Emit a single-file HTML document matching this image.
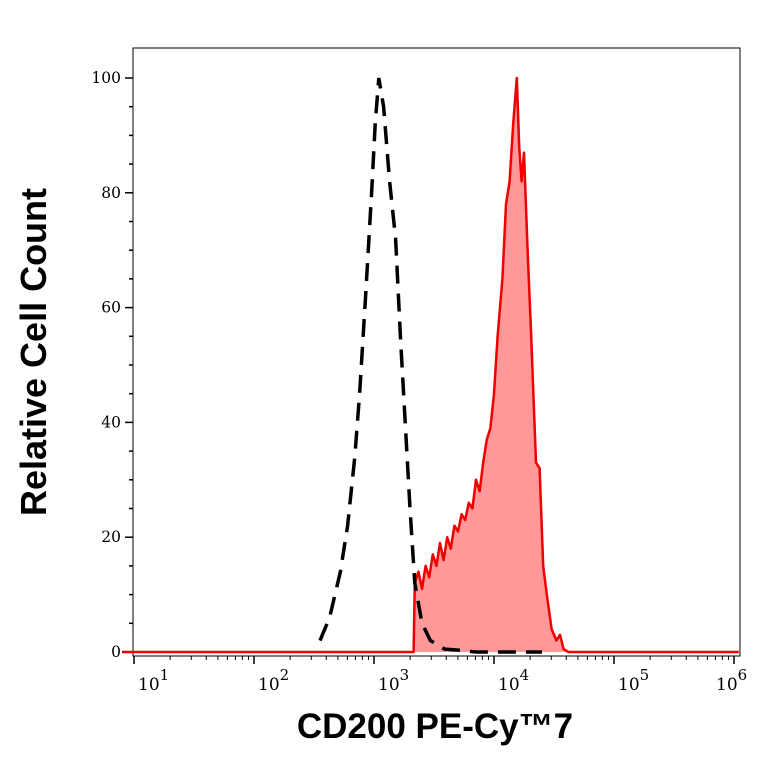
<!DOCTYPE html>
<html><head><meta charset="utf-8"><style>
html,body{margin:0;padding:0;background:#fff}
svg{display:block}
</style></head><body>
<svg width="764" height="764" xmlns="http://www.w3.org/2000/svg">
<g id="axes"></g>
<g id="series"></g>
<text x="46" y="352" transform="rotate(-90 46 352)" text-anchor="middle" font-family="Liberation Sans, sans-serif" font-weight="bold" font-size="36">Relative Cell Count</text>
<text x="435" y="738" text-anchor="middle" font-family="Liberation Sans, sans-serif" font-weight="bold" font-size="35">CD200 PE-Cy™7</text>
</svg>
<script>
const yTicks=[0,20,40,60,80,100];
const xDecades=[1,2,3,4,5,6];
const isoLog=[2.55,2.63,2.72,2.78,2.84,2.88,2.93,2.98,3.01,3.04,3.08,3.13,3.18,3.22,3.26,3.30,3.34,3.40,3.47,3.59,3.72,3.85,4.0,4.2,4.4];
const isoVal=[2,6,14,22,34,45,62,80,92,100,95,82,72,55,40,25,12,5,2,0.5,0.3,0,0,0,0];
const cdLog=[0.9,3.33,3.34,3.37,3.40,3.43,3.46,3.49,3.52,3.55,3.58,3.61,3.64,3.67,3.70,3.73,3.76,3.79,3.82,3.85,3.88,3.91,3.94,3.97,4.00,4.03,4.07,4.10,4.13,4.16,4.19,4.21,4.23,4.25,4.28,4.31,4.35,4.38,4.41,4.44,4.48,4.52,4.55,4.58,4.62,5.0,5.5,6.05];
const cdVal=[0,0,12,14,11,15,13,17,15,19,16,20,18,22,21,24,23,26,25,30,28,33,37,39,45,55,65,78,82,92,100,88,82,87,70,55,33,32,15,10,4,2,3,0.5,0,0,0,0];
const NS='http://www.w3.org/2000/svg';
const L=133,R=740,T=48,B=656;
function xs(d){return 134+120*(d-1);}
function ys(v){return 652-5.74*v;}
function mk(tag,attrs,parent){const e=document.createElementNS(NS,tag);for(const k in attrs)e.setAttribute(k,attrs[k]);parent.appendChild(e);return e;}
const ax=document.getElementById('axes');
const frame=mk('rect',{x:L,y:T,width:R-L,height:B-T,fill:'none',stroke:'#000','stroke-width':1},ax);


for(let v=0;v<=100;v+=5){const major=v%20===0;mk('line',{x1:L-(major?8:4),x2:L,y1:ys(v),y2:ys(v),stroke:'#000','stroke-width':1.5},ax);}
yTicks.forEach(v=>{const t=mk('text',{x:L-12,y:ys(v)+5,'text-anchor':'end','font-family':'DejaVu Serif, serif','font-size':15.5},ax);t.textContent=v;

});
xDecades.forEach(d=>{mk('line',{x1:xs(d),x2:xs(d),y1:B,y2:B+8,stroke:'#000','stroke-width':1.5},ax);
if(d<6){for(let k=2;k<10;k++){const x=xs(d+Math.log10(k));mk('line',{x1:x,x2:x,y1:B,y2:B+4,stroke:'#000'},ax);}}
const t=mk('text',{x:xs(d)+(d===6?-18:4),y:B+34,'font-family':'DejaVu Serif, serif','font-size':17},ax);


t.textContent='10';const s=mk('tspan',{dy:-10,'font-size':15},t);s.textContent=d;});
const sg=document.getElementById('series');
let pts=cdLog.map((d,i)=>xs(Math.min(d,6.04))+','+ys(cdVal[i])).join(' ');
const area=mk('polygon',{points:pts+' '+xs(6.04)+','+ys(0)+' '+xs(0.9)+','+ys(0),fill:'#f99','stroke':'none'},sg);


const line=mk('polyline',{points:pts,fill:'none',stroke:'#e00','stroke-width':2.5,'stroke-linejoin':'round'},sg);


const iso=mk('polyline',{points:isoLog.map((d,i)=>xs(d)+','+ys(isoVal[i])).join(' '),fill:'none',stroke:'#000','stroke-width':3.5,'stroke-dasharray':'18,10'},sg);


</script>
</body></html>
